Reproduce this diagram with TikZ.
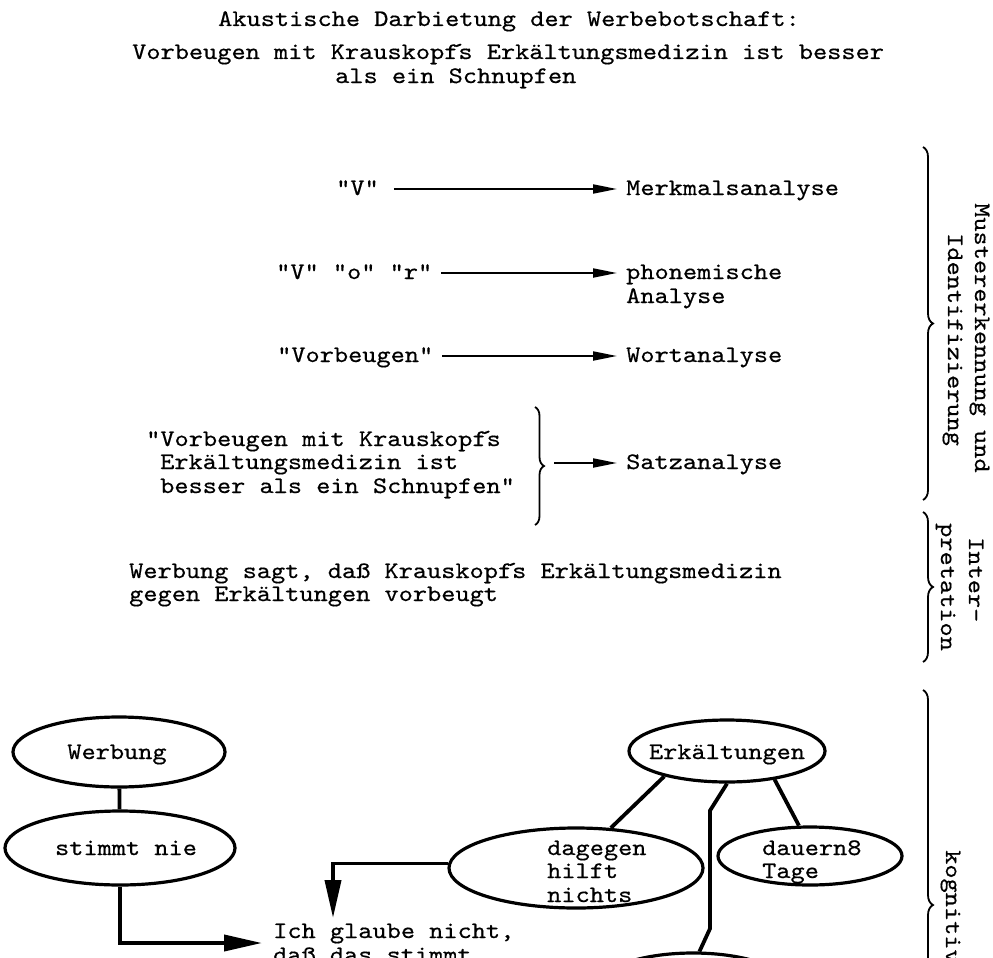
\documentclass[tikz,border=0pt]{standalone}
\usepackage{fontspec}
\usetikzlibrary{shapes.geometric,arrows.meta,decorations.pathreplacing}
\newfontfamily\twfont[FakeStretch=1.14, FakeBold=0.5]{lmmono10-regular.otf}
\newcommand\twsize{\fontsize{23.7pt}{23.7pt}\selectfont}
\newcommand\apo{\makebox[0pt][c]{\raisebox{0.02em}{´}}}
\tikzset{
  tw/.style={font=\twfont\twsize, inner sep=0pt, text height=17pt, text depth=5pt, anchor=west},
  rot/.style={tw, rotate=-90},
  sarr/.style={line width=2pt, -{Triangle[length=24pt,width=9pt]}},
  barr/.style={line width=3.8pt, -{Triangle[length=38pt,width=16pt]}},
  oval/.style={draw, ellipse, line width=3.2pt, inner sep=0pt},
  conn/.style={line width=3.8pt},
  rbrace/.style={decorate, decoration={brace, amplitude=10pt}, line width=1.8pt},
  sbrace/.style={decorate, decoration={brace, amplitude=9pt}, line width=1.8pt},
}
\begin{document}
\begin{tikzpicture}[x=1pt,y=-1pt]
\useasboundingbox (0,0) rectangle (993,958);
\clip (0,0) rectangle (993,958);

% header
\node[tw] (h1) at (218,20) {Akustische Darbietung der Werbebotschaft:};
\node[tw] (h2) at (132,53) {Vorbeugen mit Krauskopf\apo s Erkältungsmedizin ist besser};
\node[tw] (h3) at (335,77) {als ein Schnupfen};

% analysis rows
\node[tw] (v1) at (336,189) {"V"};
\node[tw] (m1) at (626,189) {Merkmalsanalyse};
\node[tw] (v2) at (276,273) {"V" "o" "r"};
\node[tw] (m2) at (626,273) {phonemische};
\node[tw] (m2b) at (626,297) {Analyse};
\node[tw] (v3) at (277,356) {"Vorbeugen"};
\node[tw] (m3) at (626,356) {Wortanalyse};
\draw[sarr, shorten <=15pt, shorten >=9pt] (v1.east) -- (m1.west);
\draw[sarr, shorten <=9pt, shorten >=9pt] (v2.east) -- (m2.west);
\draw[sarr, shorten <=9pt, shorten >=9pt] (v3.east) -- (m3.west);

\node[tw] (s1) at (146,440) {"Vorbeugen mit Krauskopf\apo s};
\node[tw] (s2) at (160,463) {Erkältungsmedizin ist};
\node[tw] (s3) at (160,487) {besser als ein Schnupfen"};
\node[tw] (m4) at (626,463) {Satzanalyse};
\draw[sbrace] (535,407) -- (535,525);
\coordinate (stip) at (545,463);
\draw[sarr, shorten <=9pt, shorten >=9pt] (stip) -- (m4.west);

\node[tw] (i1) at (129,572) {Werbung sagt, daß Krauskopf\apo s Erkältungsmedizin};
\node[tw] (i2) at (129,595) {gegen Erkältungen vorbeugt};

% right braces
\draw[rbrace] (923,147) -- (923,500);
\draw[rbrace] (923,512) -- (923,662);
\draw[rbrace] (923,690) -- (923,1120);
\node[rot] (r1) at (981,203) {Mustererkennung und};
\node[rot] (r2) at (954,233) {Identifizierung};
\node[rot] (r3) at (975,537) {Inter-};
\node[rot] (r4) at (947,523) {pretation};
\node[rot] (r5) at (952,850) {kognitiv};

% bottom graph
\node[oval, minimum width=212pt, minimum height=70pt] (werb) at (119,752) {};
\node[tw, anchor=center] (werbT) at (117,753) {Werbung};
\node[oval, minimum width=230pt, minimum height=74pt] (stim) at (120,848) {};
\node[tw, anchor=center] (stimT) at (126,849) {stimmt nie};
\node[oval, minimum width=196pt, minimum height=62pt] (erk) at (727,751) {};
\node[tw, anchor=center] (erkT) at (727,753) {Erkältungen};
\node[oval, minimum width=254pt, minimum height=80pt] (dag) at (576,868) {};
\node[tw] (dagT1) at (547,849) {dagegen};
\node[tw] (dagT2) at (547,872) {hilft};
\node[tw] (dagT3) at (547,896) {nichts};
\node[oval, minimum width=184pt, minimum height=58pt] (dau) at (810,856) {};
\node[tw] (dauT1) at (762,849) {dauern8};
\node[tw] (dauT2) at (762,872) {Tage};
\node[oval, minimum width=194pt, minimum height=70pt] (bot) at (693,988) {};

\node[tw] (ich1) at (273,932) {Ich glaube nicht,};
\node[tw] (ich2) at (273,956) {daß das stimmt};
\coordinate (t1) at (262,943);
\coordinate (t2) at (333,918);

\draw[conn] (werb) -- (stim);
\draw[barr] (stim.south) |- (t1);
\draw[barr] (dag.178) -| (t2);
\draw[conn] (erk.202.8) -- (dag.49.6);
\draw[conn] (erk.329.4) -- (dau.110.8);
\draw[conn] (erk.south) -- ++(-17,27) -- ++(0,118) -- (bot.80);
\end{tikzpicture}
\end{document}
